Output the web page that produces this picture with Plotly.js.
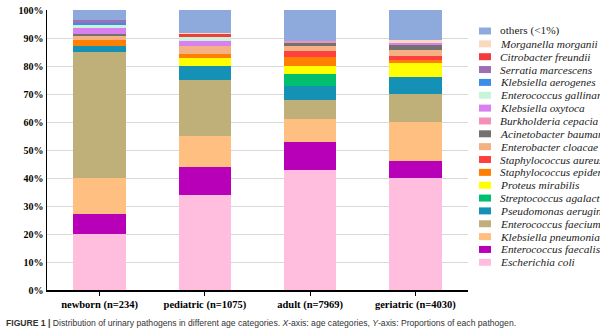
<!DOCTYPE html>
<html>
<head>
<meta charset="utf-8">
<script src="https://cdn.plot.ly/plotly-3.0.1.min.js"></script>
<style>html,body{margin:0;padding:0;background:#fff;}#chart{width:600px;height:332px;}</style>
</head>
<body>
<div id="chart"></div>
<script>
// Categories (x axis)
const categories = ["newborn (n=234)", "pediatric (n=1075)", "adult (n=7969)", "geriatric (n=4030)"];

// Pathogen names, bottom of stack first
const pathogens = [
  "Escherichia coli", "Enterococcus faecalis", "Klebsiella pneumoniae", "Enterococcus faecium",
  "Pseudomonas aeruginosa", "Streptococcus agalactiae", "Proteus mirabilis", "Staphylococcus epidermidis",
  "Staphylococcus aureus", "Enterobacter cloacae", "Acinetobacter baumannii", "Burkholderia cepacia",
  "Klebsiella oxytoca", "Enterococcus gallinarum", "Klebsiella aerogenes", "Serratia marcescens",
  "Citrobacter freundii", "Morganella morganii", "others (<1%)"
];

// Percent of each pathogen per category: [newborn, pediatric, adult, geriatric]
const escherichiaColi       = [20, 34, 43, 40];
const enterococcusFaecalis  = [7, 10, 10, 6.2];
const klebsiellaPneumoniae  = [13, 11, 8, 13.8];
const enterococcusFaecium   = [45, 20, 7, 10];
const pseudomonasAeruginosa = [2, 5, 5, 5.9];
const streptococcusAgal     = [0, 0, 4, 0];
const proteusMirabilis      = [0, 3, 3, 5.2];
const staphEpidermidis      = [2.3, 1.2, 3.3, 0.9];
const staphAureus           = [0, 0, 2.2, 1.5];
const enterobacterCloacae   = [1.3, 2.9, 1.8, 2.1];
const acinetobacterBaumannii= [0.8, 0, 1.0, 1.8];
const burkholderiaCepacia   = [0, 0, 0.8, 0];
const klebsiellaOxytoca     = [2.1, 1.9, 0, 0.8];
const enterococcusGallinarum= [1.1, 1.2, 0, 0];
const klebsiellaAerogenes   = [0.8, 0, 0, 0];
const serratiaMarcescens    = [1.2, 0, 0, 0];
const citrobacterFreundii   = [0, 1.1, 0, 0];
const morganellaMorganii    = [0, 0.6, 0, 1.0];
const others                = [3.4, 8.1, 10.9, 10.8];

const seriesValues = [
  escherichiaColi, enterococcusFaecalis, klebsiellaPneumoniae, enterococcusFaecium,
  pseudomonasAeruginosa, streptococcusAgal, proteusMirabilis, staphEpidermidis,
  staphAureus, enterobacterCloacae, acinetobacterBaumannii, burkholderiaCepacia,
  klebsiellaOxytoca, enterococcusGallinarum, klebsiellaAerogenes, serratiaMarcescens,
  citrobacterFreundii, morganellaMorganii, others
];

const colors = [
  "#FFBEDD", "#B800B8", "#FFBF80", "#BFB07A",
  "#1591B5", "#00C070", "#FFFF00", "#FF7F00",
  "#FF4040", "#F4B183", "#767171", "#F48FB8",
  "#DA7FF0", "#C8F5D8", "#3C8DE8", "#9E6FB5",
  "#F03C3C", "#FBD9BF", "#8EAADC"
];

const yTicks = [0,10,20,30,40,50,60,70,80,90,100];

const traces = pathogens.map((name, i) => ({
  type: "bar",
  name: name,
  x: categories,
  y: seriesValues[i],
  marker: {color: colors[i], line: {width: 0}},
  showlegend: false,
  hoverinfo: "name+y"
}));

// Plot-area geometry (pixels) used to place the custom legend
const W = 600, H = 332, L = 47, R = 132, T = 10, B = 42;
const pw = W - L - R, ph = H - T - B;
const px2x = p => (p - L) / pw;
const py2y = p => (H - B - p) / ph;

const annotations = [];
const shapes = [];
const n = pathogens.length;
for (let k = 0; k < n; k++) {
  const i = n - 1 - k; // top of legend = last trace
  const py = 31 + 12.85 * k;
  const isOthers = pathogens[i].startsWith("others");
  annotations.push({
    xref: "paper", yref: "paper",
    x: px2x(498), y: py2y(py),
    xanchor: "left", yanchor: "middle",
    text: isOthers ? pathogens[i] : "<i>" + pathogens[i] + "</i>",
    showarrow: false,
    font: {family: "Liberation Serif, Times New Roman, serif", size: 11.3, color: "#222"}
  });
  shapes.push({
    type: "rect", xref: "paper", yref: "paper",
    x0: px2x(479), x1: px2x(491),
    y0: py2y(py + 3.5), y1: py2y(py - 3.5),
    fillcolor: colors[i], line: {width: 0}
  });
}

annotations.push({
  xref: "paper", yref: "paper",
  x: px2x(4), y: py2y(323),
  xanchor: "left", yanchor: "middle",
  showarrow: false,
  text: "<b>FIGURE 1 |</b> Distribution of urinary pathogens in different age categories. <i>X</i>-axis: age categories, <i>Y</i>-axis: Proportions of each pathogen.",
  font: {family: "Liberation Sans, Arial, sans-serif", size: 8.6, color: "#333"}
});

const layout = {
  width: W, height: H,
  margin: {l: L, r: R, t: T, b: B, autoexpand: false},
  paper_bgcolor: "#fff", plot_bgcolor: "#fff",
  barmode: "stack",
  bargap: 0.5,
  showlegend: false,
  xaxis: {
    type: "category",
    range: [-0.5, 3.5],
    showline: true, linecolor: "#000", linewidth: 1.5,
    ticks: "outside", ticklen: 4, tickcolor: "#000", tickwidth: 1,
    tickfont: {family: "Liberation Serif, Times New Roman, serif", size: 10.5, color: "#000", weight: "bold"},
    showgrid: false, zeroline: false, fixedrange: true
  },
  yaxis: {
    range: [0, 100],
    tickvals: yTicks,
    ticktext: yTicks.map(v => v + "%"),
    showline: true, linecolor: "#000", linewidth: 1.5,
    ticks: "",
    showgrid: true, gridcolor: "#D9D9D9", gridwidth: 1,
    zeroline: false,
    tickfont: {family: "Liberation Serif, Times New Roman, serif", size: 10, color: "#000", weight: "bold"},
    fixedrange: true
  },
  annotations: annotations,
  shapes: shapes
};

Plotly.newPlot("chart", traces, layout, {displayModeBar: false, staticPlot: true});
</script>
</body>
</html>
